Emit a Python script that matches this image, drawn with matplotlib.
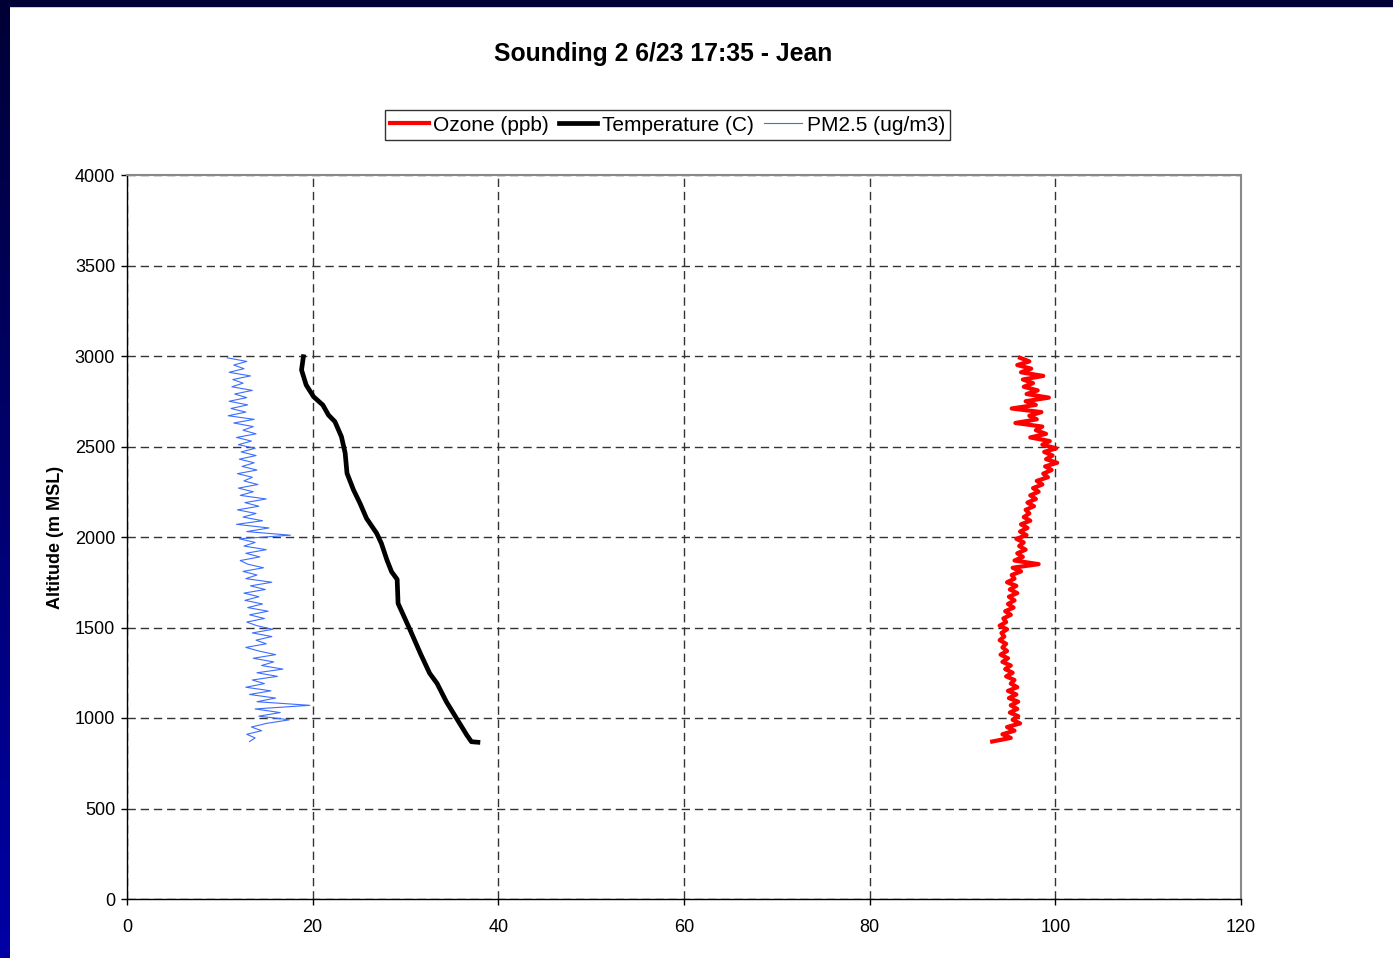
import numpy as np
import matplotlib
matplotlib.use('Agg')
import matplotlib.pyplot as plt
from matplotlib.patches import Rectangle

plt.rcParams['font.family'] = ['Liberation Sans', 'DejaVu Sans']

# temperature profile (C) vs altitude (m MSL)
temp_alt = [866, 869, 906, 998, 1090, 1191, 1247, 1357, 1486, 1633, 1766, 1808, 1873,
            1965, 2020, 2103, 2186, 2260, 2352, 2464, 2554, 2637, 2674, 2729, 2775,
            2840, 2923, 2996]
temp_c = [37.8, 37.1, 36.6, 35.5, 34.4, 33.4, 32.6, 31.6, 30.5, 29.2, 29.1, 28.5, 28.0,
          27.4, 26.9, 25.8, 25.1, 24.4, 23.7, 23.5, 23.1, 22.4, 21.7, 21.1, 20.1,
          19.3, 18.8, 19.0]

# ozone and PM2.5 sampled every 20 m from 870 to 2990 m
samp_alt = np.arange(870, 3000, 20)
ozone = [93.2, 95.2, 94.3, 95.6, 94.8, 96.2, 95.4, 96.0, 95.1, 95.9,
         95.2, 96.0, 95.0, 95.8, 94.9, 95.9, 95.2, 95.6, 94.7, 95.4,
         94.6, 95.2, 94.3, 94.9, 94.1, 94.8, 94.3, 94.7, 94.0, 94.5,
         94.2, 94.8, 94.0, 94.7, 94.4, 95.2, 94.6, 95.5, 94.9, 95.6,
         95.0, 95.9, 95.1, 95.8, 94.8, 95.6, 95.3, 96.3, 95.4, 98.2,
         95.6, 96.5, 95.9, 96.8, 96.1, 96.6, 95.8, 96.9, 96.2, 97.0,
         96.3, 97.3, 96.6, 97.2, 96.8, 97.7, 97.0, 97.9, 97.3, 98.2,
         97.6, 98.6, 98.0, 99.2, 98.7, 99.6, 98.9, 100.2, 99.0, 99.7,
         98.8, 100.1, 98.6, 99.4, 97.3, 99.0, 97.9, 98.6, 95.7, 98.0,
         97.2, 98.5, 95.3, 97.9, 96.8, 99.3, 96.9, 98.1, 96.6, 97.6,
         96.5, 98.7, 96.3, 97.4, 95.9, 97.2, 96.2]
pm25 = [13.2, 13.8, 12.9, 14.5, 13.4, 15.0, 17.5, 14.2, 16.5, 13.8,
        19.7, 14.0, 16.0, 13.2, 15.5, 12.8, 14.8, 13.5, 16.2, 14.0,
        16.8, 14.5, 15.8, 13.6, 16.0, 14.2, 12.8, 15.0, 13.9, 15.6,
        13.5, 15.7, 14.0, 12.9, 14.8, 13.2, 15.2, 13.0, 14.6, 12.7,
        14.2, 12.6, 14.9, 13.3, 15.6, 12.8, 14.0, 12.5, 14.7, 13.0,
        12.2, 14.3, 12.8, 15.0, 12.6, 13.8, 12.1, 17.6, 12.9, 15.3,
        11.8, 14.6, 12.5, 13.9, 11.9, 14.2, 12.7, 15.0, 12.2, 13.6,
        12.0, 14.1, 12.6, 13.5, 11.9, 14.0, 12.4, 13.7, 12.1, 13.9,
        12.3, 13.8, 12.0, 13.4, 11.8, 13.9, 12.5, 13.6, 11.5, 13.7,
        10.9, 12.8, 11.2, 13.0, 11.0, 12.9, 11.6, 13.5, 11.3, 12.5,
        11.4, 13.3, 11.0, 12.6, 11.5, 12.9, 10.8]

fig = plt.figure(figsize=(13.93, 9.58), dpi=100)

# dark blue slide border (left gradient strip + top bar)
bg = fig.add_axes([0, 0, 10/1393, 1])
grad = np.linspace(0, 1, 256).reshape(-1, 1)
bg.imshow(grad, aspect='auto', cmap=matplotlib.colors.LinearSegmentedColormap.from_list(
    'edge', ['#000036', '#0000a6']), extent=[0, 1, 0, 1])
bg.axis('off')
fig.patches.append(Rectangle((0, 1 - 6/958), 1, 6/958, transform=fig.transFigure,
                             color='#000036', zorder=0))

ax = fig.add_axes([127/1393, 1 - 899/958, (1241 - 127)/1393, (899 - 175)/958])
ax.plot(ozone, samp_alt, color='red', lw=3.0, label='Ozone (ppb)')
ax.plot(temp_c, temp_alt, color='black', lw=3.4, label='Temperature (C)')
ax.plot(pm25, samp_alt, color='#3d6dff', lw=0.8, label='PM2.5 (ug/m3)')

ax.set_xlim(0, 120)
ax.set_ylim(0, 4000)
ax.set_xticks(np.arange(0, 121, 20))
ax.set_yticks(np.arange(0, 4001, 500))
ax.tick_params(axis='both', labelsize=13, length=4.5, width=1, color='black')
ax.tick_params(axis='x', pad=10)
ax.tick_params(axis='y', pad=4)
ax.grid(True, color='#333333', lw=1, linestyle=(0, (6, 3.5)))
ax.set_axisbelow(True)
for s in ['top', 'right']:
    ax.spines[s].set_color('#888888')
    ax.spines[s].set_linewidth(1.5)
for s in ['left', 'bottom']:
    ax.spines[s].set_color('black')
    ax.spines[s].set_linewidth(1)
ax.set_ylabel('Altitude (m MSL)', fontsize=13, fontweight='bold', labelpad=8)

fig.text(663/1393, 1 - 54/958, 'Sounding 2 6/23 17:35 - Jean', ha='center', va='center',
         fontsize=17.8, fontweight='bold')

leg = fig.legend(loc='center', bbox_to_anchor=(667.5/1393, 1 - 125/958), ncol=3,
                 fontsize=15, frameon=True, fancybox=False, handlelength=1.85,
                 handletextpad=0.2, columnspacing=0.5, borderpad=0.25,
                 borderaxespad=0)
leg.get_frame().set_edgecolor('black')
leg.get_frame().set_linewidth(1)

fig.savefig('out.png', dpi=100)
